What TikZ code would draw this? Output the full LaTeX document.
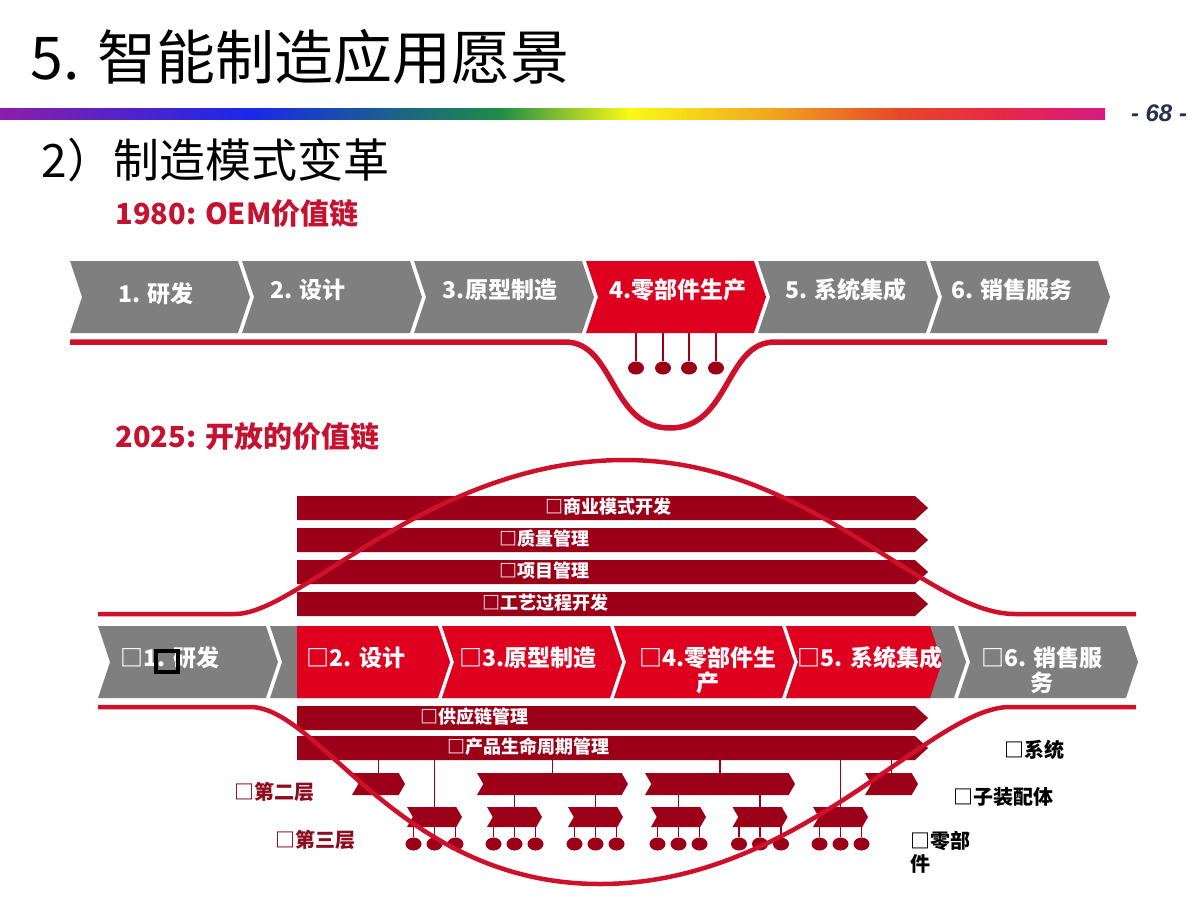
\documentclass[tikz,border=0pt]{standalone}
\usepackage{fontspec}
\setmainfont{Noto Sans CJK SC}
\newfontfamily\pagefont{Liberation Sans}
\usetikzlibrary{shapes.symbols,shapes.geometric}

\definecolor{chevgray}{RGB}{127,127,127}
\definecolor{chevred}{RGB}{222,0,30}
\definecolor{bardark}{RGB}{156,0,24}
\definecolor{linered}{RGB}{206,16,42}
\definecolor{labelred}{RGB}{196,18,48}
\definecolor{leveldark}{RGB}{140,12,32}
\definecolor{pagenum}{RGB}{40,48,80}
\definecolor{rb0}{RGB}{140,30,170}
\definecolor{rb1}{RGB}{25,40,235}
\definecolor{rb2}{RGB}{30,140,70}
\definecolor{rb3}{RGB}{250,250,20}
\definecolor{rb4}{RGB}{240,160,30}
\definecolor{rb5}{RGB}{232,70,40}
\definecolor{rb6}{RGB}{232,40,70}
\definecolor{rb7}{RGB}{215,25,130}

\def\chevsep{172}

\begin{document}
\begin{tikzpicture}[x=1pt,y=-1pt]
		\tikzstyle{chevron}=[signal,signal from=west,signal to=east,signal pointer angle=143,minimum width=180pt,minimum height=72pt,inner sep=0pt,fill=chevgray]
		\tikzstyle{chevtext}=[text=white,font=\fontsize{23}{25}\selectfont\bfseries,align=center]
		\tikzstyle{bar}=[signal,signal to=east,signal pointer angle=85,minimum width=631pt,minimum height=24pt,inner sep=0pt,fill=bardark]
		\tikzstyle{bartext}=[text=white,font=\fontsize{18}{20}\selectfont\bfseries]
		\tikzstyle{subasm}=[signal,signal from=west,signal to=east,signal pointer angle=120,minimum height=22pt,inner sep=0pt,fill=bardark]
		\tikzstyle{part}=[subasm,minimum width=55pt,minimum height=20pt]
		\tikzstyle{dot}=[ellipse,minimum width=16pt,minimum height=13pt,inner sep=0pt,fill=bardark]
		\tikzstyle{stem}=[draw=bardark,line width=1.6pt]
		\tikzstyle{flow}=[draw=linered,line width=5.5pt]
		\tikzstyle{heading}=[anchor=west,text=labelred,font=\fontsize{29}{32}\selectfont\bfseries]
		\tikzstyle{tier}=[anchor=west,font=\fontsize{20}{23}\selectfont\bfseries]

		\useasboundingbox (0,0) rectangle (1200,900);
		\fill[white] (0,0) rectangle (1200,900);

			% Draw the title, the rainbow rule and the page number
		\node[anchor=west,font=\fontsize{59}{62}\selectfont] (title) at (27,57) {5. 智能制造应用愿景};
		\foreach \xa/\xb/\ca/\cb in {0/250/rb0/rb1,249/500/rb1/rb2,499/630/rb2/rb3,629/780/rb3/rb4,779/900/rb4/rb5,899/1000/rb5/rb6,999/1105/rb6/rb7}
		\fill[left color=\ca,right color=\cb] (\xa,108) rectangle (\xb,119);
		\node[font=\pagefont\fontsize{24}{26}\selectfont\bfseries\itshape,text=pagenum] (page) at (1159,113) {- 68 -};
		\node[anchor=west,font=\fontsize{46}{50}\selectfont] (sub) at (38,160) {2）制造模式变革};

			% Draw the 1980 value chain
		\node[heading] (oem) at (112,214) {1980: OEM价值链};
		\foreach \i/\col in {1/chevgray,2/chevgray,3/chevgray,4/chevred,5/chevgray,6/chevgray}
		\node[chevron,fill=\col] (T-\i) at (160+\chevsep*\i-\chevsep,297) {};
		\foreach \i/\dx/\dy/\txt in {1/-4/3/{1. 研发},2/-24/7/{2. 设计},3/-4/7/{3.原型制造},4/2/7/{4.零部件生产},5/-2/7/{5. 系统集成},6/-8/7/{6. 销售服务}}
		\node[chevtext] (TT-\i) at ([xshift=\dx pt,yshift=\dy pt]T-\i.center) {\txt};

			% Parts hanging from the in-house production step
		\foreach \j/\dx in {1/-40,2/-13,3/13,4/40}
		\node[dot] (TD-\j) at (676+\dx,368) {};
		\foreach \j in {1,...,4}
		\draw[stem] (TD-\j.north) -- (TD-\j.north |- T-4.south);
		\draw[flow] (70,342) -- (565,342) .. controls (615,342) and (610,428) .. (670,428) .. controls (730,428) and (725,342) .. (775,342) -- (1107,342);

			% Draw the 2025 value chain
		\node[heading] (open) at (112,437) {2025: 开放的价值链};
		\foreach \i/\y in {1/508,2/540,3/572,4/604,5/718,6/748}
		\node[bar] (B-\i) at (606,\y) {};
		\foreach \i/\x/\y/\txt in {1/608/508/{□商业模式开发},2/544/540/{□质量管理},3/544/572/{□项目管理},4/545/604/{□工艺过程开发},5/474/718/{□供应链管理},6/528/748/{□产品生命周期管理}}
		\node[bartext] (BT-\i) at (\x,\y-1) {\txt};

		\foreach \i in {1,...,6}
		\node[chevron] (M-\i) at (188+\chevsep*\i-\chevsep,662) {};
		\begin{scope}
		\clip (297,626) -- (930,626) -- (942,662) -- (930,698) -- (297,698) -- cycle;
		\foreach \i in {2,...,5}
		\node[chevron,fill=chevred] (R-\i) at (M-\i) {};
		\end{scope}
		\foreach \i/\x/\txt in {1/170/{□1. 研发},2/356/{□2. 设计},3/528/{□3.原型制造},4/708/{□4.零部件生\\产},5/870/{□5. 系统集成},6/1042/{□6. 销售服\\务}}
		\node[chevtext,anchor=north] (MT-\i) at (\x,643) {\txt};
		\draw[black,line width=4pt] (156,651) rectangle (178,672);

			% Draw the sub-assemblies, the parts and their pins
		\foreach \i/\x/\w in {1/378.5/53,2/552.5/151,3/720/150,4/891.5/53}
		\node[subasm,minimum width=\w pt] (S-\i) at (\x,784) {};
		\foreach \i/\x in {1/434.5,2/514.5,3/595.5,4/678.5,5/760,6/840.5}
		\node[part] (P-\i) at (\x,817) {};
		\foreach \i in {1,...,6}
		\foreach \j/\dx in {1/-21,2/0,3/21}
		\path (P-\i) ++(\dx,27) node[dot] (D-\i-\j) {};

			% Connect the lifecycle bar with the level below
		\foreach \dest in {S-1,P-1,S-2,S-3,P-6,S-4}
		\draw[stem] (\dest.north) -- (\dest.north |- B-6.south);
		\foreach \src/\dest in {S-2/P-2,S-2/P-3,S-3/P-4,S-3/P-5}
		\draw[stem] (\dest.north) -- (\dest.north |- \src.south);
		\foreach \i in {1,...,6}
		\foreach \j in {1,2,3}
		\draw[stem] (D-\i-\j.north) -- (D-\i-\j.north |- P-\i.south);

		\draw[flow,line width=4.5pt] (98,614) -- (235,614) .. controls (300,614) and (430,460) .. (625,460) .. controls (810,460) and (925,614) .. (1015,614) -- (1136,614);
		\draw[flow,line width=4.5pt] (98,707) -- (250,707) .. controls (320,707) and (400,884) .. (600,884) .. controls (800,884) and (930,707) .. (1010,707) -- (1136,707);

			% Annotate the levels
		\node[tier,text=leveldark] (L2) at (231,792) {□第二层};
		\node[tier,text=leveldark] (L3) at (272,840) {□第三层};
		\node[tier] (Lsys) at (1001,750) {□系统};
		\node[tier] (Lsub) at (950,797) {□子装配体};
		\node[tier,anchor=north west,align=left] (Lpart) at (907,828) {□零部\\件};
\end{tikzpicture}
\end{document}
